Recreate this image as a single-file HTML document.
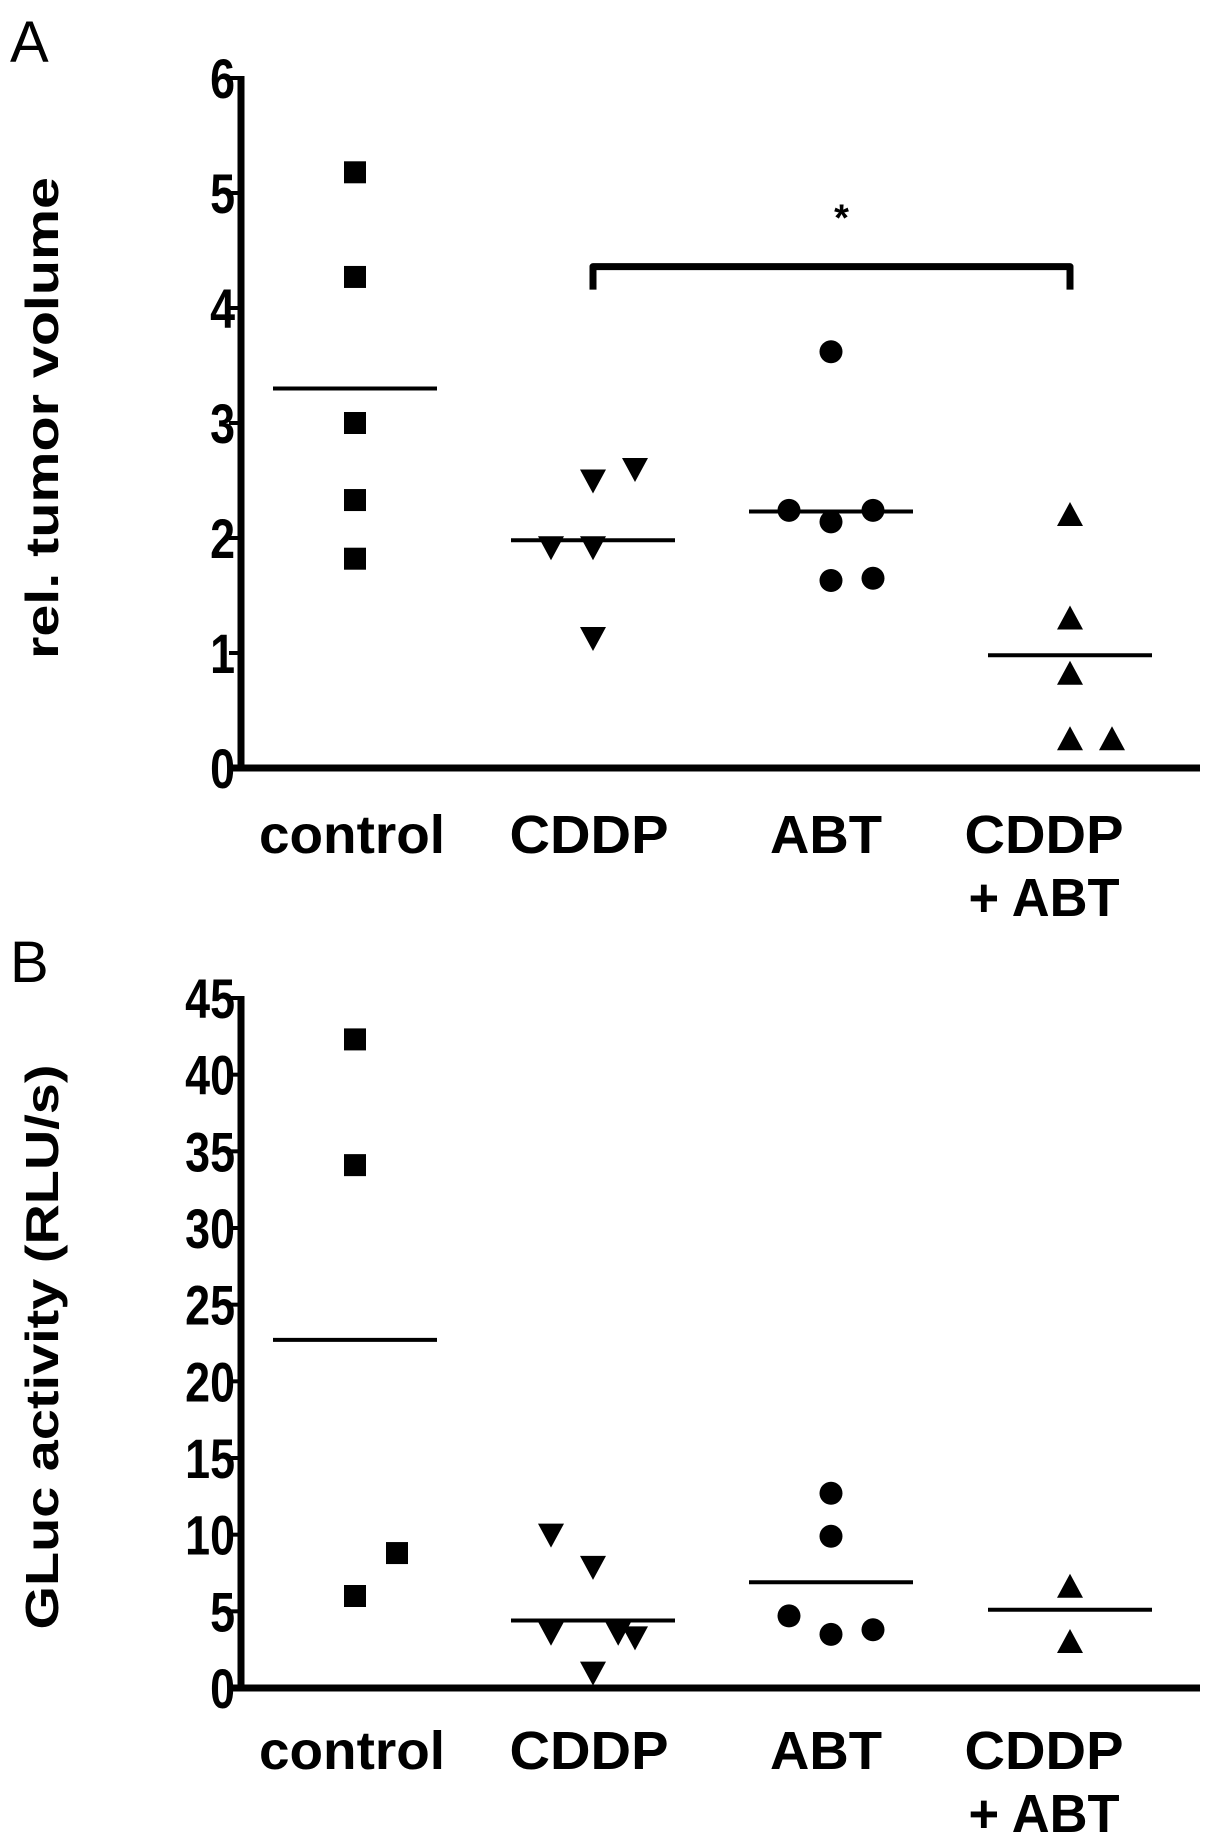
<!DOCTYPE html>
<html><head><meta charset="utf-8"><style>
html,body{margin:0;padding:0;background:#fff;}
svg{display:block;font-family:"Liberation Sans",Arial,sans-serif;}
</style></head><body>
<svg id="chart" width="1205" height="1843" viewBox="0 0 1205 1843" xmlns="http://www.w3.org/2000/svg"></svg>
<script>
const categories = ["control","CDDP","ABT","CDDP|+ ABT"];
const markerShapes = ["square","down","circle","up"];
// Panel A values: [categoryIndex, offsetIndex, value]
const aControl = [[0,0,5.18],[0,0,4.27],[0,0,3.0],[0,0,2.33],[0,0,1.82]];
const aCDDP = [[1,0,2.5],[1,1,2.6],[1,-1,1.92],[1,0,1.92],[1,0,1.13]];
const aABT = [[2,0,3.62],[2,-1,2.24],[2,0,2.14],[2,1,2.24],[2,0,1.63],[2,1,1.65]];
const aCombo = [[3,0,2.2],[3,0,1.3],[3,0,0.82],[3,0,0.25],[3,1,0.25]];
const aMeans = [3.3,1.98,2.23,0.98];
const aTicks = [0,1,2,3,4,5,6];
// Panel B values
const bControl = [[0,0,42.3],[0,0,34.1],[0,1,8.8],[0,0,6.0]];
const bCDDP = [[1,-1,10.0],[1,0,7.9],[1,-1,3.6],[1,0.6,3.6],[1,1,3.3],[1,0,1.0]];
const bABT = [[2,0,12.7],[2,0,9.9],[2,-1,4.7],[2,0,3.5],[2,1,3.8]];
const bCombo = [[3,0,6.6],[3,0,3.0]];
const bMeans = [22.7,4.4,6.9,5.1];
const bTicks = [0,5,10,15,20,25,30,35,40,45];

const NS="http://www.w3.org/2000/svg";
const svg=document.getElementById('chart');
function mk(tag,attrs,parent){const e=document.createElementNS(NS,tag);for(const k in attrs)e.setAttribute(k,attrs[k]);(parent||svg).appendChild(e);return e;}

const catX=[355,593,831,1070];
const off=42;
const labelX=[352,589,826,1044];
const labelW=[186,159,112,159];

function panel(p){
  const g=mk('g',{});
  
  
  const y=v=>p.y0-(v-p.min)/(p.max-p.min)*(p.y0-p.yTop);
  const x=(ci,o)=>catX[ci]+o*off;
  const L=mk('text',{x:10,y:p.letterY,'font-size':58,fill:'#000'},g);L.textContent=p.letter;
  
  
  const ya=mk('line',{x1:241,y1:p.yTop-2,x2:241,y2:p.y0+3,stroke:'#000','stroke-width':7},g);
  
  
  const xa=mk('line',{x1:229,y1:p.y0,x2:1200,y2:p.y0,stroke:'#000','stroke-width':7},g);
  
  
  p.ticks.forEach(t=>{
    const tk=mk('line',{x1:229,y1:y(t),x2:241,y2:y(t),stroke:'#000','stroke-width':4},g);
    
    
    const tl=mk('text',{x:235,y:y(t)+20,'font-size':56,'font-weight':'bold','text-anchor':'end',fill:'#000',transform:`translate(235 0) scale(0.8 1) translate(-235 0)`},g);
    tl.textContent=t;
    
    
  });
  const yt=mk('text',{x:0,y:0,'font-size':46,'font-weight':'bold','text-anchor':'middle',fill:'#000',textLength:p.titleLen,lengthAdjust:'spacingAndGlyphs',transform:`translate(58 ${p.titleY}) rotate(-90)`},g);
  yt.textContent=p.title;
  
  
  categories.forEach((c,i)=>{
    c.split('|').forEach((line,j)=>{
      const w=j===1?151:labelW[i];
      const t=mk('text',{x:labelX[i],y:p.labelY+j*63,'font-size':54,'font-weight':'bold','text-anchor':'middle',fill:'#000',textLength:w,lengthAdjust:'spacingAndGlyphs'},g);
      t.textContent=line;
      
      
    });
  });
  p.series.forEach((s,si)=>{
    const shape=markerShapes[si];
    s.forEach(d=>{
      const cx=x(d[0],d[1]),cy=y(d[2]);let e;
      if(shape==='square')e=mk('rect',{x:cx-11,y:cy-11,width:22,height:22,fill:'#000'},g);
      else if(shape==='circle')e=mk('circle',{cx:cx,cy:cy,r:11.5,fill:'#000'},g);
      else if(shape==='down')e=mk('polygon',{points:`${cx-13},${cy-11} ${cx+13},${cy-11} ${cx},${cy+13}`,fill:'#000'},g);
      else e=mk('polygon',{points:`${cx-13},${cy+11} ${cx+13},${cy+11} ${cx},${cy-13}`,fill:'#000'},g);
      
      
    });
  });
  p.means.forEach((m,i)=>{
    const l=mk('line',{x1:catX[i]-82,y1:y(m),x2:catX[i]+82,y2:y(m),stroke:'#000','stroke-width':4},g);
    
    
  });
  return y;
}

const yA=panel({name:'panel-a',letter:'A',letterY:62,y0:768,yTop:78,min:0,max:6,ticks:aTicks,title:'rel. tumor volume',titleLen:482,titleY:418,labelY:853,series:[aControl,aCDDP,aABT,aCombo],means:aMeans});
const br=mk('polyline',{points:`${catX[1]},${yA(4.16)} ${catX[1]},${yA(4.36)} ${catX[3]},${yA(4.36)} ${catX[3]},${yA(4.16)}`,fill:'none',stroke:'#000','stroke-width':7,'stroke-linejoin':'round'});


const ast=mk('text',{x:(catX[1]+catX[3])/2+10,y:yA(4.85)+20,'font-size':38,'font-weight':'bold','text-anchor':'middle',fill:'#000'});
ast.textContent='*';



panel({name:'panel-b',letter:'B',letterY:982,y0:1688,yTop:998,min:0,max:45,ticks:bTicks,title:'GLuc activity (RLU/s)',titleLen:565,titleY:1347,labelY:1769,series:[bControl,bCDDP,bABT,bCombo],means:bMeans});
</script>
</body></html>
